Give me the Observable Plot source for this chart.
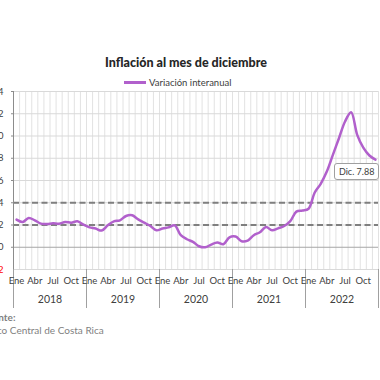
<!DOCTYPE html>
<html>
<head>
<meta charset="utf-8">
<script src="https://cdn.jsdelivr.net/npm/d3@7"></script>
<script src="https://cdn.jsdelivr.net/npm/@observablehq/plot@0.6"></script>
<style>
  html, body { margin: 0; padding: 0; background: #fff; }
  #wrap { position: relative; width: 380px; height: 380px; overflow: hidden; font-family: Lato, "Open Sans", sans-serif; }
  #title { position: absolute; left: 0; width: 372px; top: 55px; text-align: center; font-weight: 900; font-size: 12.5px; color: #262626; }
  #legend { position: absolute; left: 124px; top: 77px; font-size: 9.5px; color: #404040; display: flex; align-items: center; white-space: nowrap; }
  #legend span.sw { display: inline-block; width: 22px; height: 3px; background: #b160cc; margin-right: 3px; }
  #chart { position: absolute; left: 0; top: 0; }
  #src1 { position: absolute; left: -18px; top: 311px; font-size: 10px; font-weight: bold; color: #7f7f7f; white-space: nowrap; }
  #src2 { position: absolute; left: -20px; top: 324px; font-size: 10px; color: #7f7f7f; white-space: nowrap; }
  #tip { position: absolute; box-sizing: border-box; height: 17px; border: 1px solid #a0a0a0; border-radius: 3px; background: #fff; font-size: 9px; color: #404040; line-height: 15px; text-align: center; padding: 0 4px; white-space: nowrap; }
</style>
</head>
<body>
<div id="wrap">
  <div id="title"></div>
  <div id="legend"><span class="sw"></span><span id="legtext"></span></div>
  <div id="chart"></div>
  <div id="src1"></div>
  <div id="src2"></div>
  <div id="tip"></div>
</div>
<script>
const titleText = "Inflación al mes de diciembre";
const seriesName = "Variación interanual";
const sourceLabel = "Fuente:";
const sourceText = "Banco Central de Costa Rica";

const years = ["2018", "2019", "2020", "2021", "2022"];
const monthNames = ["Ene", "Feb", "Mar", "Abr", "May", "Jun", "Jul", "Ago", "Set", "Oct", "Nov", "Dic"];
const labeledMonths = ["Ene", "Abr", "Jul", "Oct"];

const v2018 = [2.48, 2.27, 2.63, 2.42, 2.12, 2.09, 2.15, 2.12, 2.27, 2.21, 2.33, 2.03];
const v2019 = [1.79, 1.68, 1.50, 1.97, 2.33, 2.42, 2.81, 2.87, 2.51, 2.21, 1.91, 1.52];
const v2020 = [1.68, 1.79, 1.97, 1.08, 0.72, 0.48, 0.09, 0.00, 0.24, 0.42, 0.27, 0.89];
const v2021 = [0.96, 0.54, 0.60, 1.08, 1.35, 1.82, 1.52, 1.70, 1.91, 2.35, 3.20, 3.30];
const v2022 = [3.46, 4.90, 5.70, 6.80, 8.30, 9.80, 11.30, 12.13, 10.10, 8.95, 8.25, 7.88];
const seriesValues = [v2018, v2019, v2020, v2021, v2022];

const yTicks = [-2, 0, 2, 4, 6, 8, 10, 12, 14];
const targetBand = [2, 4];

document.getElementById("title").textContent = titleText;
document.getElementById("legtext").textContent = seriesName;
document.getElementById("src1").textContent = sourceLabel;
document.getElementById("src2").textContent = sourceText;

const nMonths = years.length * 12;
const data = years.flatMap((yr, yi) => seriesValues[yi].map((v, m) => ({
  i: yi * 12 + m + 0.5, year: yr, month: monthNames[m], v
})));
const monthLabels = data.filter(d => labeledMonths.includes(d.month));
const yearLabels = years.map((yr, yi) => ({x: yi * 12 + 6, yr}));

const font = "Lato, 'Open Sans', sans-serif";
const chart = Plot.plot({
  width: 380,
  height: 380,
  marginLeft: 13,
  marginRight: 2,
  marginTop: 91,
  marginBottom: 111,
  x: {domain: [0, nMonths], axis: null},
  y: {domain: [-2, 14], axis: null},
  style: {fontFamily: font, fontSize: "9px", color: "#404040", background: "transparent", overflow: "visible"},
  marks: [
    Plot.ruleX(d3.range(0, nMonths + 1), {stroke: "#e2e2e2", strokeWidth: 1}),
    Plot.ruleY(yTicks.filter(t => t !== 0), {stroke: "#d9d9d9"}),
    Plot.ruleY([0], {stroke: "#a6a6a6"}),
    Plot.ruleY(targetBand, {stroke: "#7f7f7f", strokeWidth: 2, strokeDasharray: "6,3.5"}),
    Plot.line(data, {x: "i", y: "v", curve: "catmull-rom", stroke: "#b160cc", strokeWidth: 2.5}),
    Plot.ruleX([0], {y1: -2, y2: 14, stroke: "#8c8c8c"}),
    Plot.axisX(d3.range(0, nMonths + 1, 12), {tickSize: 39, tickFormat: () => "", stroke: "#a0a0a0", label: null}),
    Plot.axisY(yTicks.filter(t => t >= 0), {tickSize: 2, tickPadding: 8, stroke: "#8c8c8c", fill: "#404040", fontSize: 9.5, label: null}),
    Plot.axisY(yTicks.filter(t => t < 0), {tickSize: 0, tickPadding: 10, fill: "#ff0000", fontSize: 9.5, label: null}),
    Plot.text(monthLabels, {x: "i", text: "month", frameAnchor: "bottom", dy: 14, fill: "#404040", fontSize: 9.5}),
    Plot.text(yearLabels, {x: "x", text: "yr", frameAnchor: "bottom", dy: 33, fill: "#404040", fontSize: 10.5})
  ]
});
document.getElementById("chart").appendChild(chart);

// data label for the last point
const last = data[data.length - 1];
const tip = document.getElementById("tip");
tip.textContent = `${last.month}. ${last.v.toFixed(2)}`;
const sx = chart.scale("x"), sy = chart.scale("y");
const px = sx.apply(last.i), py = sy.apply(last.v);
tip.style.left = (px - 41) + "px";
tip.style.top = (py + 4) + "px";
</script>
</body>
</html>
